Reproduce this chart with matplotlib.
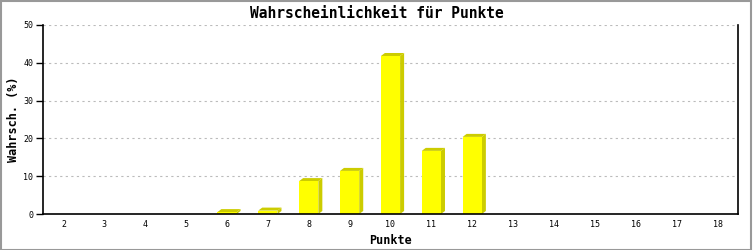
import matplotlib
matplotlib.use("Agg")
import matplotlib.pyplot as plt
from matplotlib.patches import Polygon, Rectangle

# data
punkte = [2, 3, 4, 5, 6, 7, 8, 9, 10, 11, 12, 13, 14, 15, 16, 17, 18]
wahrsch = [0, 0, 0, 0, 0.5, 0.9, 8.7, 11.4, 41.8, 16.7, 20.4, 0, 0, 0, 0, 0, 0]
y_ticks = [0, 10, 20, 30, 40, 50]

front = "#ffff00"
shade = "#cccc00"
mono = "DejaVu Sans Mono"

fig = plt.figure(figsize=(7.53, 2.5), dpi=100)
fig.patch.set_facecolor("white")
fig.patches.append(Rectangle((0.001, 0.002), 0.997, 0.994, transform=fig.transFigure,
                             fill=False, edgecolor="#999999", linewidth=1.5))

ax = fig.add_axes([43 / 753, 36 / 250, 695 / 753, 189 / 250])
x = list(range(len(punkte)))
ax.set_xlim(-0.5, len(punkte) - 0.5)
ax.set_ylim(0, 50)

# 3d depth of the bars: ~4 px right, ~3 px up
w = 0.47
dx = 4 / 40.9
dy = 3 / 3.78
for xi, v in zip(x, wahrsch):
    if v <= 0:
        continue
    l, r = xi - w / 2, xi + w / 2
    ax.add_patch(Polygon([(r, 0), (r + dx, dy), (r + dx, v + dy), (r, v)],
                         closed=True, facecolor=shade, edgecolor="none", zorder=3))
    ax.add_patch(Polygon([(l, v), (l + dx, v + dy), (r + dx, v + dy), (r, v)],
                         closed=True, facecolor=shade, edgecolor="none", zorder=3))
ax.bar(x, wahrsch, width=w, color=front, edgecolor="none", zorder=4)

ax.set_yticks(y_ticks)
ax.set_yticklabels([str(t) for t in y_ticks], family=mono, fontsize=6)
ax.set_xticks(x)
ax.set_xticklabels([str(p) for p in punkte], family=mono, fontsize=6)
ax.tick_params(axis="x", length=0, pad=4)
ax.tick_params(axis="y", length=5, width=1, pad=2)
ax.grid(axis="y", color="#bbbbbb", linestyle=(0, (2, 3)), linewidth=0.8, zorder=0)
ax.set_axisbelow(True)

ax.spines["top"].set_visible(False)
for s in ("left", "bottom", "right"):
    ax.spines[s].set_linewidth(1.2)
    ax.spines[s].set_color("black")
    ax.spines[s].set_zorder(5)

fig.text(0.5, 1 - 13 / 250, "Wahrscheinlichkeit für Punkte", family=mono, fontsize=10.5,
         fontweight="bold", ha="center", va="center")
ax.set_xlabel("Punkte", family=mono, fontsize=8.5, fontweight="bold", labelpad=4)
ax.set_ylabel("Wahrsch. (%)", family=mono, fontsize=8.5, fontweight="bold", labelpad=2)

plt.savefig("out.png", dpi=100)
